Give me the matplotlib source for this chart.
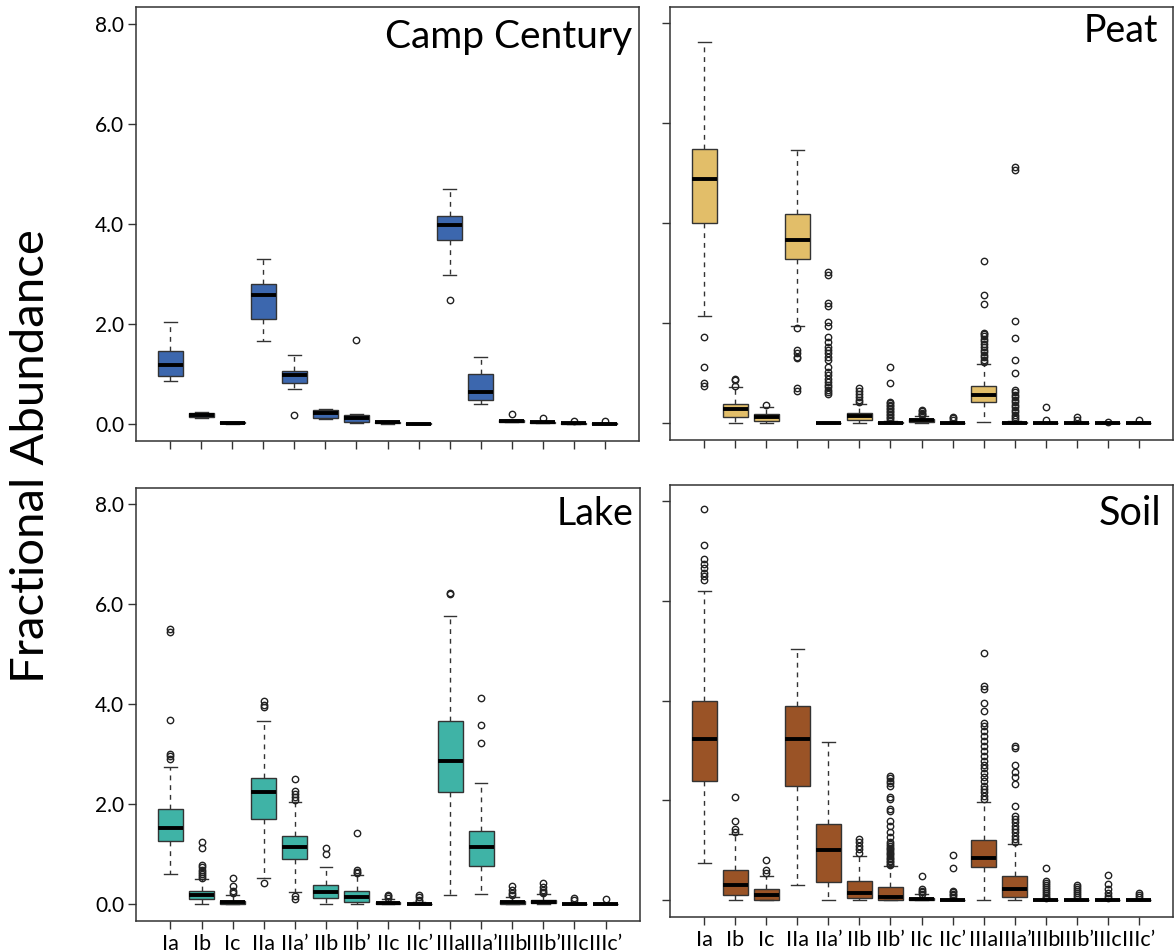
import matplotlib
matplotlib.use("Agg")
import matplotlib.pyplot as plt

plt.rcParams['font.family'] = ['Lato', 'DejaVu Sans']

categories = ["Ia", "Ib", "Ic", "IIa", "IIa\u2019", "IIb", "IIb\u2019", "IIc", "IIc\u2019",
              "IIIa", "IIIa\u2019", "IIIb", "IIIb\u2019", "IIIc", "IIIc\u2019"]
y_ticks = [0.0, 2.0, 4.0, 6.0, 8.0]
y_tick_labels = ["0.0", "2.0", "4.0", "6.0", "8.0"]

# ---- Camp Century ----
cc_med = [1.17, 0.18, 0.02, 2.57, 0.98, 0.21, 0.11, 0.03, 0.00, 3.98, 0.64, 0.06, 0.03, 0.01, 0.00]
cc_q1 = [0.96, 0.14, 0.01, 2.10, 0.81, 0.12, 0.04, 0.01, 0.00, 3.68, 0.48, 0.04, 0.02, 0.00, 0.00]
cc_q3 = [1.46, 0.21, 0.03, 2.79, 1.06, 0.28, 0.17, 0.04, 0.01, 4.16, 1.00, 0.07, 0.04, 0.02, 0.01]
cc_wlo = [0.85, 0.12, 0.00, 1.65, 0.70, 0.09, 0.02, 0.00, 0.00, 2.97, 0.39, 0.03, 0.01, 0.00, 0.00]
cc_whi = [2.03, 0.23, 0.04, 3.29, 1.37, 0.30, 0.19, 0.05, 0.01, 4.69, 1.33, 0.08, 0.05, 0.02, 0.01]
cc_out = [[], [], [], [], [0.17], [], [1.68], [], [], [2.48], [], [0.20], [0.11], [0.06], [0.05]]

# ---- Peat ----
peat_med = [4.88, 0.28, 0.12, 3.67, 0.00, 0.14, 0.00, 0.06, 0.00, 0.57, 0.00, 0.00, 0.00, 0.00, 0.00]
peat_q1 = [4.00, 0.13, 0.05, 3.28, 0.00, 0.07, 0.00, 0.03, 0.00, 0.42, 0.00, 0.00, 0.00, 0.00, 0.00]
peat_q3 = [5.49, 0.38, 0.18, 4.19, 0.01, 0.20, 0.02, 0.08, 0.01, 0.75, 0.02, 0.01, 0.01, 0.00, 0.01]
peat_wlo = [2.15, 0.00, 0.00, 1.95, 0.00, 0.00, 0.00, 0.00, 0.00, 0.02, 0.00, 0.00, 0.00, 0.00, 0.00]
peat_whi = [7.63, 0.73, 0.32, 5.47, 0.02, 0.38, 0.05, 0.14, 0.03, 1.19, 0.05, 0.03, 0.02, 0.01, 0.02]
peat_out = [
    [1.73, 1.13, 0.80, 0.75],
    [0.89, 0.86, 0.75],
    [0.36],
    [1.91, 1.47, 1.41, 1.33, 1.30, 0.70, 0.65],
    [3.03, 2.97, 2.40, 2.35, 2.02, 1.95, 1.72, 1.62, 1.52, 1.47, 1.40, 1.33, 1.27,
     1.12, 1.02, 0.97, 0.88, 0.82, 0.77, 0.72, 0.67, 0.62, 0.58],
    [0.70, 0.65, 0.58, 0.53, 0.47, 0.42],
    [1.13, 0.81, 0.43, 0.40, 0.37, 0.34, 0.31, 0.28, 0.25, 0.22, 0.19, 0.16, 0.13, 0.10, 0.07],
    [0.27, 0.24, 0.21, 0.18, 0.16],
    [0.13, 0.10, 0.07],
    [3.24, 2.57, 2.38, 1.81, 1.78, 1.74, 1.69, 1.64, 1.58, 1.52, 1.47, 1.42, 1.37, 1.32, 1.27, 1.23],
    [5.13, 5.07, 2.05, 1.70, 1.27, 1.01, 0.67, 0.62, 0.57, 0.52, 0.47, 0.42, 0.37, 0.32,
     0.27, 0.22, 0.17, 0.12, 0.08],
    [0.32, 0.06],
    [0.12, 0.06],
    [0.03],
    [0.06],
]

# ---- Lake ----
lake_med = [1.52, 0.19, 0.04, 2.24, 1.14, 0.24, 0.15, 0.03, 0.00, 2.86, 1.14, 0.04, 0.05, 0.00, 0.00]
lake_q1 = [1.26, 0.10, 0.01, 1.71, 0.90, 0.12, 0.05, 0.01, 0.00, 2.24, 0.77, 0.01, 0.02, 0.00, 0.00]
lake_q3 = [1.91, 0.27, 0.07, 2.52, 1.37, 0.39, 0.27, 0.05, 0.01, 3.67, 1.46, 0.07, 0.09, 0.01, 0.01]
lake_wlo = [0.61, 0.00, 0.00, 0.53, 0.25, 0.00, 0.00, 0.00, 0.00, 0.19, 0.20, 0.00, 0.00, 0.00, 0.00]
lake_whi = [2.74, 0.50, 0.19, 3.67, 2.04, 0.74, 0.59, 0.10, 0.04, 5.76, 2.42, 0.15, 0.20, 0.03, 0.03]
lake_out = [
    [5.51, 5.44, 3.68, 3.01, 2.96, 2.90],
    [1.24, 1.12, 0.79, 0.74, 0.69, 0.64, 0.60, 0.56, 0.53],
    [0.52, 0.37, 0.27, 0.22],
    [4.06, 3.99, 3.94, 0.43],
    [2.51, 2.27, 2.20, 2.14, 2.09, 0.17, 0.10],
    [1.12, 1.00],
    [1.42, 0.69, 0.65, 0.62],
    [0.19, 0.16, 0.13],
    [0.19, 0.14, 0.09, 0.06],
    [6.23, 6.20],
    [4.13, 3.58, 3.23],
    [0.37, 0.29, 0.22, 0.18],
    [0.42, 0.35, 0.29, 0.25, 0.22],
    [0.12, 0.08],
    [0.11],
]

# ---- Soil ----
soil_med = [3.23, 0.30, 0.11, 3.23, 1.00, 0.15, 0.07, 0.03, 0.00, 0.85, 0.22, 0.00, 0.00, 0.00, 0.00]
soil_q1 = [2.38, 0.10, 0.01, 2.29, 0.37, 0.05, 0.01, 0.01, 0.00, 0.67, 0.07, 0.00, 0.00, 0.00, 0.00]
soil_q3 = [3.99, 0.60, 0.22, 3.89, 1.52, 0.39, 0.27, 0.05, 0.01, 1.20, 0.49, 0.01, 0.01, 0.01, 0.01]
soil_wlo = [0.75, 0.00, 0.00, 0.30, 0.00, 0.00, 0.00, 0.00, 0.00, 0.00, 0.00, 0.00, 0.00, 0.00, 0.00]
soil_whi = [6.21, 1.32, 0.49, 5.04, 3.17, 0.89, 0.69, 0.12, 0.03, 1.96, 1.12, 0.03, 0.03, 0.03, 0.02]
soil_out = [
    [7.85, 7.13, 6.84, 6.75, 6.66, 6.56, 6.50, 6.43],
    [2.06, 1.58, 1.42, 1.37],
    [0.80, 0.61, 0.55],
    [],
    [],
    [1.22, 1.16, 1.09, 1.02, 0.95],
    [2.49, 2.45, 2.39, 2.34, 2.29, 2.06, 2.02, 1.82, 1.78, 1.59, 1.49, 1.36, 1.26, 1.16,
     1.12, 1.09, 1.05, 1.02, 0.98, 0.95, 0.92, 0.89, 0.85, 0.82, 0.79, 0.76, 0.73, 0.70],
    [0.49, 0.22, 0.19, 0.16, 0.13],
    [0.90, 0.65, 0.19, 0.16, 0.13, 0.10, 0.07],
    [4.96, 4.29, 4.23, 3.96, 3.79, 3.56, 3.49, 3.39, 3.29, 3.19, 3.09, 2.99, 2.89, 2.79,
     2.72, 2.66, 2.56, 2.46, 2.39, 2.29, 2.22, 2.16, 2.09, 2.02],
    [3.09, 3.06, 2.72, 2.57, 2.46, 2.32, 1.89, 1.69, 1.62, 1.56, 1.49, 1.42, 1.36, 1.29, 1.22, 1.17],
    [0.65, 0.39, 0.35, 0.31, 0.27, 0.23, 0.19, 0.15, 0.11, 0.07, 0.04],
    [0.30, 0.26, 0.22, 0.18, 0.14, 0.10, 0.06],
    [0.50, 0.32, 0.22, 0.15, 0.09, 0.05],
    [0.15, 0.10, 0.06],
]

panels = [
    dict(name="Camp Century", color="#3c67ae", med=cc_med, q1=cc_q1, q3=cc_q3, wlo=cc_wlo, whi=cc_whi, out=cc_out,
         rect=[136/1174, 1-441/952, 503/1174, 434/952], tx=0.986, ty=0.905, tsize=28, left=True, bottom=False),
    dict(name="Peat", color="#e2be69", med=peat_med, q1=peat_q1, q3=peat_q3, wlo=peat_wlo, whi=peat_whi, out=peat_out,
         rect=[670/1174, 1-440/952, 503/1174, 433/952], tx=0.970, ty=0.919, tsize=27, left=False, bottom=False),
    dict(name="Lake", color="#3fb3a6", med=lake_med, q1=lake_q1, q3=lake_q3, wlo=lake_wlo, whi=lake_whi, out=lake_out,
         rect=[136/1174, 1-921/952, 504/1174, 433/952], tx=0.988, ty=0.914, tsize=27, left=True, bottom=True),
    dict(name="Soil", color="#9a5326", med=soil_med, q1=soil_q1, q3=soil_q3, wlo=soil_wlo, whi=soil_whi, out=soil_out,
         rect=[670/1174, 1-917/952, 503/1174, 432/952], tx=0.976, ty=0.907, tsize=28.5, left=False, bottom=True),
]

fig = plt.figure(figsize=(11.74, 9.52), dpi=100)
edge = "#333333"

for p in panels:
    ax = fig.add_axes(p["rect"])
    stats = []
    for i, lab in enumerate(categories):
        stats.append(dict(med=p["med"][i], q1=p["q1"][i], q3=p["q3"][i],
                          whislo=p["wlo"][i], whishi=p["whi"][i], fliers=p["out"][i], label=lab))
    positions = list(range(1, len(categories) + 1))
    ax.bxp(stats, positions=positions, widths=0.8, capwidths=0.4, patch_artist=True,
           boxprops=dict(facecolor=p["color"], edgecolor=edge, linewidth=1.0),
           medianprops=dict(color="black", linewidth=2.8, solid_capstyle="butt"),
           whiskerprops=dict(color=edge, linewidth=1.0, linestyle=(0, (3.5, 3.5))),
           capprops=dict(color=edge, linewidth=1.0),
           flierprops=dict(marker="o", markerfacecolor="none", markeredgecolor="#222222",
                           markersize=4.6, markeredgewidth=1.0, linestyle="none"))
    ax.set_xlim(-0.11, 16.11)
    ax.set_ylim(-0.34, 8.33)
    ax.set_yticks(y_ticks)
    if p["left"]:
        ax.set_yticklabels(y_tick_labels, fontsize=15)
    else:
        ax.set_yticklabels([])
    ax.set_xticks(positions)
    if p["bottom"]:
        ax.set_xticklabels(categories, fontsize=15.5)
    else:
        ax.set_xticklabels([])
    ax.tick_params(axis="y", direction="out", length=6, width=1.0, color=edge, pad=2.5)
    ax.tick_params(axis="x", direction="out", length=6, width=1.0, color=edge, pad=3.5)
    for s in ax.spines.values():
        s.set_color(edge)
        s.set_linewidth(1.1)
    ax.text(p["tx"], p["ty"], p["name"], transform=ax.transAxes, ha="right", va="baseline",
            fontsize=p["tsize"], color="black")

fig.text(0.026, 0.521, "Fractional Abundance", rotation=90, ha="center", va="center", fontsize=34)

fig.savefig("out.png", dpi=100)
